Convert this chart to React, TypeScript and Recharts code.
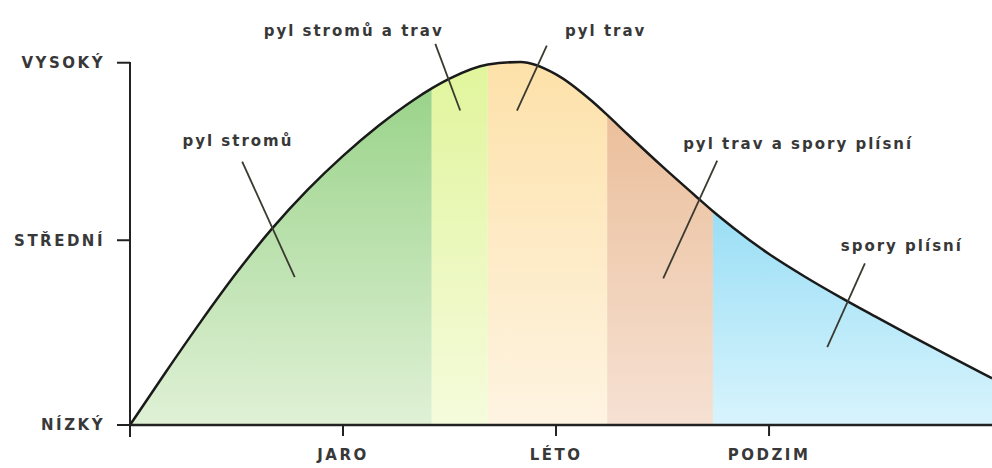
import React from "react";
import {
  ComposedChart,
  Area,
  Line,
  XAxis,
  YAxis,
  ReferenceLine,
  ReferenceDot,
} from "recharts";

// month of the year (x) and allergen level 0..100 (y)
const months = [0, 0.5, 1, 1.5, 2, 2.5, 3, 3.5, 4, 4.25, 4.5, 5.04, 5.5, 6, 6.5, 6.72, 7, 7.5, 8, 8.21, 8.5, 9, 9.5, 10, 10.5, 11, 11.5, 12, 12.14];
const levels = [0, 14.5, 28.6, 42.0, 54.2, 64.9, 74.3, 82.6, 89.8, 92.9, 95.6, 99.5, 100.2, 96.8, 89.5, 85.6, 80.4, 71.3, 62.6, 59.0, 54.4, 47.2, 41.0, 35.3, 29.9, 24.6, 19.4, 14.3, 12.9];

const seasonTicks = [3, 6, 9];
const seasonLabels = ["JARO", "LÉTO", "PODZIM"];
const levelTicks = [0, 51, 100];
const levelLabels = ["NÍZKÝ", "STŘEDNÍ", "VYSOKÝ"];

// coloured bands under the curve
const sectionStarts = [0, 4.25, 5.04, 6.72, 8.21];
const sectionEnds = [4.25, 5.04, 6.72, 8.21, 12.14];
const sectionTop = ["#9ad38a", "#e1f59c", "#fde1a9", "#ebbf9b", "#9adef5"];
const sectionBottom = ["#e0f1d6", "#f5fbdc", "#fef4e2", "#f6e1d3", "#d8f4fd"];

// annotation texts, where they sit and their leader lines
const noteTexts = ["pyl stromů", "pyl stromů a trav", "pyl trav", "pyl trav a spory plísní", "spory plísní"];
const notePos = [[1.52, 78.5], [3.15, 108.8], [6.7, 108.8], [9.41, 77.7], [10.87, 49.6]];
const noteFrom = [[1.58, 72.7], [4.3, 105.2], [5.87, 104.7], [8.27, 73], [10.35, 44.6]];
const noteTo = [[2.32, 40.8], [4.65, 86.8], [5.45, 86.8], [7.51, 40.5], [9.82, 21.5]];

const data = months.map((m, i) => {
  const row: Record<string, number | null> = { x: m, level: levels[i] };
  sectionStarts.forEach((s, k) => {
    row[`s${k}`] = m >= s && m <= sectionEnds[k] ? levels[i] : null;
  });
  return row;
});

const FONT = "'DejaVu Sans', sans-serif";
const INK = "#383838";

const SeasonTick = (props: any) => {
  const { x, y, payload } = props;
  const idx = seasonTicks.indexOf(payload.value);
  return (
    <text x={x} y={y} dy="0.71em" textAnchor="middle" fontFamily={FONT} fontWeight="bold"
      fontSize={15} letterSpacing={2.5} fill={INK}>
      {seasonLabels[idx]}
    </text>
  );
};

const LevelTick = (props: any) => {
  const { x, y, payload } = props;
  const idx = levelTicks.indexOf(payload.value);
  return (
    <text x={x} y={y} dy="0.355em" textAnchor="end" fontFamily={FONT} fontWeight="bold"
      fontSize={15} letterSpacing={2.5} fill={INK}>
      {levelLabels[idx]}
    </text>
  );
};

export default function App() {
  return (
    <div style={{ position: "absolute", left: 0, top: 0, background: "#fff" }}>
      <ComposedChart width={992} height={468} data={data}
        margin={{ top: 62, right: 0, left: 0, bottom: 0 }}>
        <defs>
          {sectionTop.map((c, k) => (
            <linearGradient key={k} id={`band${k}`} x1="0" y1="0" x2="0" y2="1">
              <stop offset="0%" stopColor={c} />
              <stop offset="100%" stopColor={sectionBottom[k]} />
            </linearGradient>
          ))}
        </defs>
        <XAxis type="number" dataKey="x" domain={[0, 12.14]} ticks={seasonTicks}
          height={43} tickSize={11} tickMargin={13} tick={<SeasonTick />}
          axisLine={{ stroke: "#222", strokeWidth: 2.5 }}
          tickLine={{ stroke: "#222", strokeWidth: 2 }} />
        <YAxis type="number" domain={[0, 100]} ticks={levelTicks} width={130}
          tickSize={13} tickMargin={12} tick={<LevelTick />}
          axisLine={{ stroke: "#222", strokeWidth: 2 }}
          tickLine={{ stroke: "#222", strokeWidth: 2 }} />
        {sectionTop.map((_, k) => (
          <Area key={k} dataKey={`s${k}`} type="monotone" stroke="none"
            fill={`url(#band${k})`} fillOpacity={1} isAnimationActive={false}
            activeDot={false} />
        ))}
        <Line dataKey="level" type="monotone" stroke="#1a1a1a" strokeWidth={2.5}
          dot={false} activeDot={false} isAnimationActive={false} />
        {/* y axis runs a little past the x axis */}
        <ReferenceLine ifOverflow="visible" segment={[{ x: 0, y: 0 }, { x: 0, y: -3.3 }]}
          stroke="#222" strokeWidth={2} />
        {noteTexts.map((_, k) => (
          <ReferenceLine key={`l${k}`} ifOverflow="visible"
            segment={[{ x: noteFrom[k][0], y: noteFrom[k][1] }, { x: noteTo[k][0], y: noteTo[k][1] }]}
            stroke="#3a3a30" strokeWidth={1.8} />
        ))}
        {noteTexts.map((t, k) => (
          <ReferenceDot key={`t${k}`} x={notePos[k][0]} y={notePos[k][1]} r={0}
            ifOverflow="visible"
            shape={(p: any) => (
              <text x={p.cx} y={p.cy} dy="0.35em" textAnchor="middle" fontFamily={FONT}
                fontWeight="bold" fontSize={15} letterSpacing={2} fill={INK}>
                {t}
              </text>
            )} />
        ))}
      </ComposedChart>
    </div>
  );
}
